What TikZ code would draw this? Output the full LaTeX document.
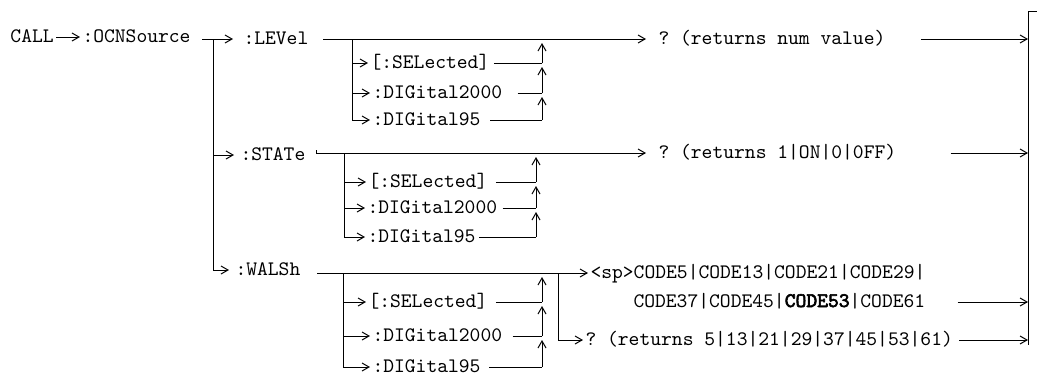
\documentclass[tikz,border=0pt]{standalone}
\usepackage{fontspec}
\newfontfamily\boldmono{lmmono10-regular.otf}[FakeBold=3]
\usetikzlibrary{arrows.meta}
\tikzset{
  kw/.style={anchor=west,inner xsep=1pt,inner ysep=0pt,text height=5pt,text depth=0pt,font=\ttfamily\fontsize{10.29}{12}\selectfont\frenchspacing},
  ar/.style={-{Straight Barb[length=3.5pt,width=4pt]}},
}
\begin{document}
\begin{tikzpicture}[x=0.5pt,y=-0.5pt,line width=0.5pt]
\useasboundingbox (0,0) rectangle (1037,376);
\node[kw] (call) at (8,37) {CALL};
\node[kw] (ocns) at (80,37) {:OCNSource};
\node[kw] (lev) at (241,39) {:LEVel};
\node[kw] (sta) at (238,155) {:STATe};
\node[kw] (wal) at (233,270) {:WALSh};
\draw[ar] (call) -- (ocns);
\coordinate (o1) at (202,39);\coordinate (trk) at (213,39);
\draw[ar,shorten >=4pt] (o1) -- (lev);
\draw[ar,shorten >=2pt] (trk) |- (sta);
\draw[ar,shorten >=2pt] (trk) |- (wal);
%return bus
\coordinate (bus0) at (1037,11);\coordinate (bus1) at (1028,11);\coordinate (bus2) at (1028,345);
\draw (bus0) -- (bus1) -- (bus2);
%LEVel
\node[kw] (lsel) at (368,63) {[:SELected]};
\node[kw] (ldig) at (370,93) {:DIGital2000};
\node[kw] (lnf) at (370,120) {:DIGital95};
\node[kw] (lret) at (656,39) {? (returns num value)};
\coordinate (l0) at (323,39);\coordinate (lb) at (352,39);\coordinate (lm) at (542,39);
\draw[ar,shorten >=5pt] (l0) -- (lret);
\draw[ar] (lb) |- (lsel);\draw[ar] (lb) |- (ldig);\draw[ar] (lb) |- (lnf);
\draw ([xshift=1pt]lsel.east) -- (lsel -| lm);
\draw ([xshift=6.5pt]ldig.east) -- (ldig -| lm);
\draw ([xshift=3.5pt]lnf.east) -- (lnf -| lm);
\draw[ar,shorten >=2pt] (lnf -| lm) -- (ldig -| lm);
\draw[ar,shorten >=2pt] (ldig -| lm) -- (lsel -| lm);
\draw[ar,shorten >=2pt] (lsel -| lm) -- (lm);
\draw[ar] ([xshift=16.5pt]lret.east) -- (lret -| bus1);
%STATe
\node[kw] (ssel) at (366,182) {[:SELected]};
\node[kw] (sdig) at (365,208) {:DIGital2000};
\node[kw] (snf) at (365,237) {:DIGital95};
\node[kw] (sret) at (656,153) {? (returns 1|ON|0|0FF)};
\coordinate (s0) at (316,150);\coordinate (sb) at (344,153);\coordinate (sm) at (536,153);
\draw[ar,shorten >=5pt] (s0) |- (sret);
\draw[ar] (sb) |- (ssel);\draw[ar] (sb) |- (sdig);\draw[ar] (sb) |- (snf);
\draw ([xshift=3pt]ssel.east) -- (ssel -| sm);
\draw ([xshift=1.5pt]sdig.east) -- (sdig -| sm);
\draw ([xshift=0.5pt]snf.east) -- (snf -| sm);
\draw[ar,shorten >=2pt] (snf -| sm) -- (sdig -| sm);
\draw[ar,shorten >=2pt] (sdig -| sm) -- (ssel -| sm);
\draw[ar,shorten >=2pt] (ssel -| sm) -- (sm);
\draw[ar] ([xshift=26pt]sret.east) -- (sret -| bus1);
%WALSh
\node[kw] (wsel) at (366,302) {[:SELected]};
\node[kw] (wdig) at (370,336) {:DIGital2000};
\node[kw] (wnf) at (370,367) {:DIGital95};
\node[kw] (wcode) at (588,273) {<sp>CODE5|CODE13|CODE21|CODE29|};
\node[kw] (wmore) at (631,302) {CODE37|CODE45|{\boldmono CODE53}|CODE61};
\node[kw] (wret) at (583,340) {? (returns 5|13|21|29|37|45|53|61)};
\coordinate (w0) at (317,273);\coordinate (wb) at (343,273);\coordinate (wm) at (542,273);\coordinate (wj) at (558,273);
\draw[ar] (w0) -- (wcode);
\draw[ar] (wj) |- (wret);
\draw[ar] (wb) |- (wsel);\draw[ar] (wb) |- (wdig);\draw[ar] (wb) |- (wnf);
\draw ([xshift=3pt]wsel.east) -- (wsel -| wm);
\draw ([xshift=4pt]wdig.east) -- (wdig -| wm);
\draw ([xshift=3pt]wnf.east) -- (wnf -| wm);
\draw[ar,shorten >=2pt] (wnf -| wm) -- (wdig -| wm);
\draw[ar,shorten >=2pt] (wdig -| wm) -- (wsel -| wm);
\draw[ar,shorten >=2pt] (wsel -| wm) -- (wm);
\draw[ar] ([xshift=15pt]wmore.east) -- (wmore -| bus1);
\draw[ar] ([xshift=2pt]wret.east) -- (wret -| bus1);
\end{tikzpicture}
\end{document}
